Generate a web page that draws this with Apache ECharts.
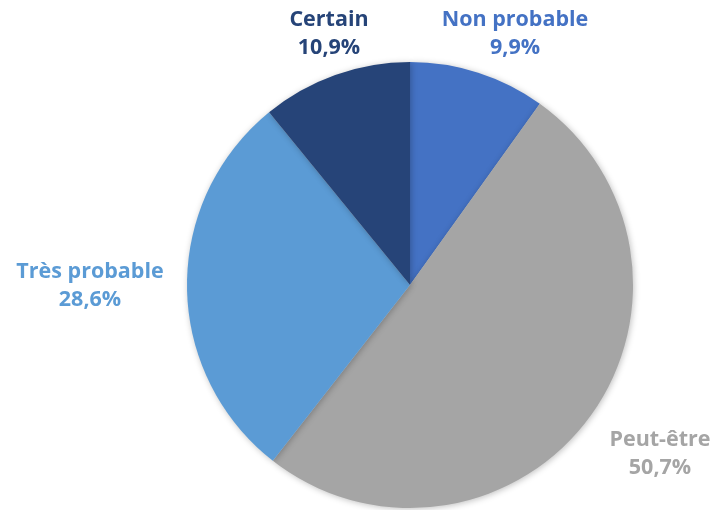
<!DOCTYPE html>
<html><head><meta charset="utf-8">
<script src="https://cdn.jsdelivr.net/npm/echarts@6/dist/echarts.min.js"></script>
<style>html,body{margin:0;padding:0;background:#fff}#c{width:714px;height:510px}</style>
</head><body><div id="c"></div>
<script>
const categories = ["Non probable", "Peut-être", "Très probable", "Certain"];
const values = [9.9, 50.7, 28.6, 10.9];
const colors = ["#4472C4", "#A5A5A5", "#5B9BD5", "#264478"];
const labelCenters = [[515, 34], [660, 454], [90, 286], [329, 34]];

const chart = echarts.init(document.getElementById('c'));
chart.setOption({
  animation: false,
  series: [{
    type: 'pie',
    center: [410, 285],
    radius: 223,
    startAngle: 90,
    clockwise: true,
    data: categories.map((c, i) => ({
      name: c, value: values[i],
      itemStyle: { color: colors[i] },
      label: { color: colors[i] }
    })),
    itemStyle: { shadowBlur: 6, shadowColor: 'rgba(0,0,0,0.25)', shadowOffsetX: 1, shadowOffsetY: 1, borderWidth: 0 },
    label: {
      show: true, position: 'outside', overflow: 'none', width: 300,
      formatter: p => p.name + '\n' + p.value.toFixed(1).replace('.', ',') + '%',
      fontFamily: 'Open Sans', fontWeight: 'bold', fontSize: 21.5, lineHeight: 28, align: 'center'
    },
    labelLine: { show: false },
    labelLayout: p => ({ x: labelCenters[p.dataIndex][0], y: labelCenters[p.dataIndex][1], align: 'center', verticalAlign: 'middle' })
  }]
});
</script></body></html>
